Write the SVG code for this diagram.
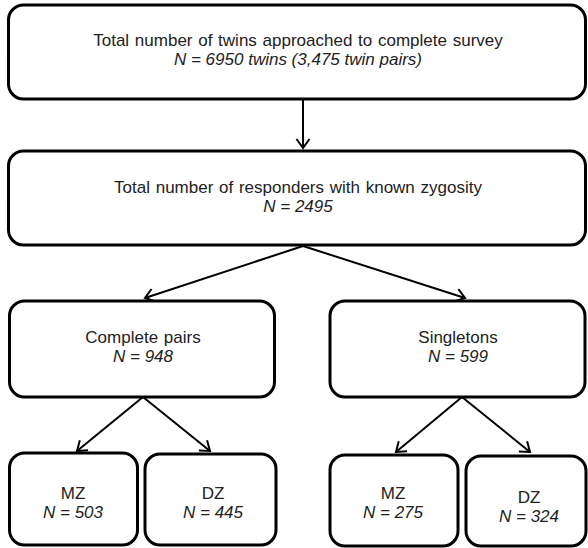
<svg xmlns="http://www.w3.org/2000/svg" width="588" height="548" viewBox="0 0 588 548">
<style>
.box{fill:#fff;stroke:#000;stroke-width:3}
.t{font-family:"Liberation Sans",Arial,sans-serif;font-size:17px;fill:#222;text-anchor:middle;word-spacing:1px}
.i{font-style:italic;word-spacing:0}
.c{stroke:#000;stroke-width:2;fill:none}
</style>
<defs>
<marker id="ah" markerUnits="userSpaceOnUse" markerWidth="16" markerHeight="16" refX="11" refY="8" orient="auto">
<path d="M2,1.5 L11,8 L2,14.5" fill="none" stroke="#000" stroke-width="2"/>
</marker>
</defs>
<g id="connectors">
<line class="c" x1="303" y1="100" x2="303" y2="148" marker-end="url(#ah)"/>
<line class="c" x1="303" y1="246" x2="145" y2="298" marker-end="url(#ah)"/>
<line class="c" x1="303" y1="246" x2="465" y2="298" marker-end="url(#ah)"/>
<line class="c" x1="143" y1="397" x2="77" y2="451" marker-end="url(#ah)"/>
<line class="c" x1="143" y1="397" x2="210" y2="451" marker-end="url(#ah)"/>
<line class="c" x1="462" y1="397" x2="396" y2="452" marker-end="url(#ah)"/>
<line class="c" x1="462" y1="397" x2="530" y2="452" marker-end="url(#ah)"/>
</g>
<g id="n1">
<rect class="box" x="8.5" y="5" width="577" height="94" rx="15"/>
<text class="t" x="298" y="46">Total number of twins approached to complete survey</text>
<text class="t i" x="298" y="65">N = 6950 twins (3,475 twin pairs)</text>
</g>
<g id="n2">
<rect class="box" x="8.5" y="151" width="577" height="94" rx="15"/>
<text class="t" x="298" y="193">Total number of responders with known zygosity</text>
<text class="t i" x="298" y="212">N = 2495</text>
</g>
<g id="n3">
<rect class="box" x="9.5" y="301" width="265" height="96" rx="15"/>
<text class="t" x="143" y="343">Complete pairs</text>
<text class="t i" x="143" y="362">N = 948</text>
</g>
<g id="n4">
<rect class="box" x="330" y="301" width="255" height="96" rx="15"/>
<text class="t" x="458" y="343">Singletons</text>
<text class="t i" x="458" y="362">N = 599</text>
</g>
<g id="n5">
<rect class="box" x="9.5" y="453" width="128" height="92" rx="15"/>
<text class="t" x="73" y="499">MZ</text>
<text class="t i" x="73" y="518">N = 503</text>
</g>
<g id="n6">
<rect class="box" x="145" y="454" width="131" height="91" rx="15"/>
<text class="t" x="213" y="499">DZ</text>
<text class="t i" x="213" y="518">N = 445</text>
</g>
<g id="n7">
<rect class="box" x="330" y="455" width="128" height="91" rx="15"/>
<text class="t" x="393" y="499">MZ</text>
<text class="t i" x="393" y="518">N = 275</text>
</g>
<g id="n8">
<rect class="box" x="466" y="456" width="120" height="90" rx="15"/>
<text class="t" x="529" y="503">DZ</text>
<text class="t i" x="529" y="522">N = 324</text>
</g>
</svg>
